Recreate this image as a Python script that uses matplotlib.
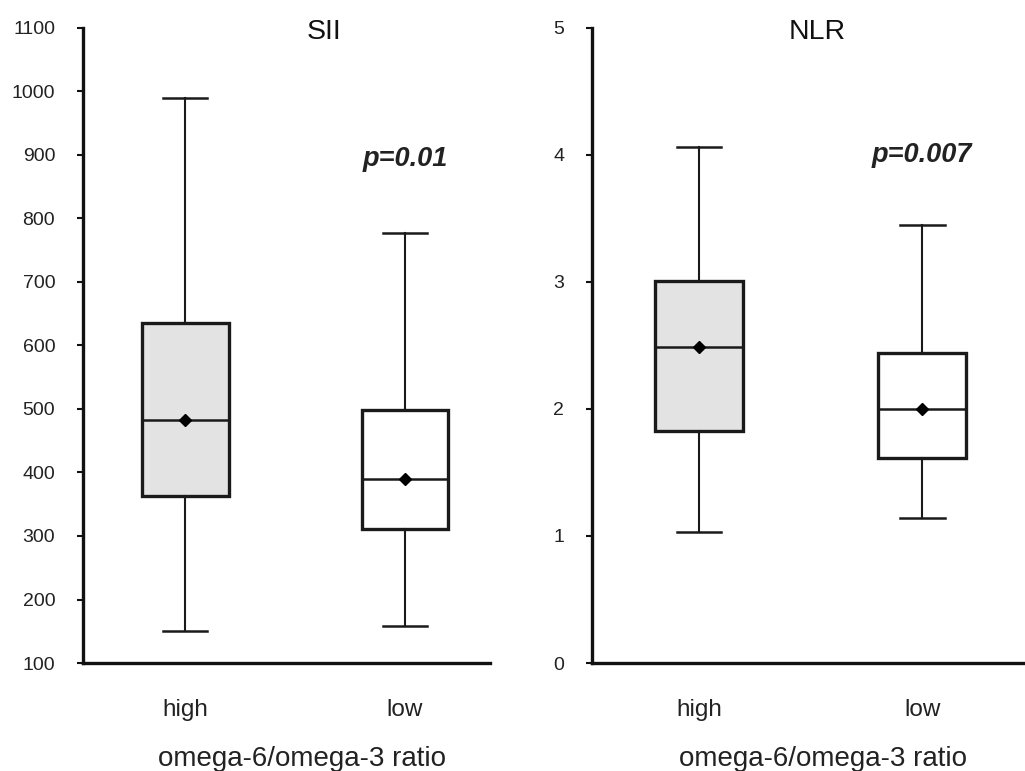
import matplotlib
matplotlib.use("Agg")
import matplotlib.pyplot as plt

plt.rcParams['font.family'] = ['Liberation Sans', 'DejaVu Sans']

groups = ["high", "low"]
xlabel = "omega-6/omega-3 ratio"

# SII
sii_whislo = [151, 158]
sii_q1 = [363, 311]
sii_med = [483, 390]
sii_q3 = [636, 499]
sii_whishi = [989, 777]
sii_mean = [483, 390]

# NLR
nlr_whislo = [1.035, 1.14]
nlr_q1 = [1.825, 1.615]
nlr_med = [2.49, 2.0]
nlr_q3 = [3.01, 2.44]
nlr_whishi = [4.06, 3.45]
nlr_mean = [2.49, 2.0]

fills = ["#e3e3e3", "#ffffff"]

fig = plt.figure(figsize=(10.25, 7.71), dpi=100)
ax1 = fig.add_axes([0.081, 0.140, 0.397, 0.824])
ax2 = fig.add_axes([0.5776, 0.140, 0.4224, 0.824])

def draw(ax, lo, q1, med, q3, hi, mean, ptext, pfrac, xlabx, ylim, yticks, xlim):
    stats = []
    for i in range(len(groups)):
        stats.append(dict(whislo=lo[i], q1=q1[i], med=med[i], q3=q3[i],
                          whishi=hi[i], mean=mean[i], fliers=[], label=groups[i]))
    bp = ax.bxp(stats, positions=[1, 2], widths=0.395, showmeans=True,
                patch_artist=True, showfliers=False,
                boxprops=dict(linewidth=2.4, edgecolor="#1a1a1a"),
                medianprops=dict(color="#1a1a1a", linewidth=1.8),
                whiskerprops=dict(color="#1a1a1a", linewidth=1.5),
                capprops=dict(color="#1a1a1a", linewidth=1.8),
                capwidths=0.2,
                meanprops=dict(marker="D", markerfacecolor="black",
                               markeredgecolor="black", markersize=6.5))
    for patch, c in zip(bp['boxes'], fills):
        patch.set_facecolor(c)
    ax.set_xlim(*xlim)
    ax.set_ylim(*ylim)
    ax.set_yticks(yticks)
    ax.spines['top'].set_visible(False)
    ax.spines['right'].set_visible(False)
    for s in ['left', 'bottom']:
        ax.spines[s].set_linewidth(2.4)
        ax.spines[s].set_color("#111111")
    ax.tick_params(axis='y', length=4.5, width=1.5, color="#111111",
                   labelsize=14, labelcolor="#222222", pad=15.5)
    ax.tick_params(axis='x', length=0, labelsize=17.5, labelcolor="#222222", pad=26)
    ax.set_xticks([1, 2])
    ax.set_xticklabels(groups)
    ax.set_xlabel(xlabel, fontsize=20, color="#222222", labelpad=21)
    ax.xaxis.set_label_coords(xlabx, -0.1, transform=ax.transAxes)
    ax.xaxis.label.set_va('center')
    ax.text(2.0, ylim[0] + (ylim[1] - ylim[0]) * pfrac, ptext, ha='center', va='center',
            fontsize=19.5, fontweight='bold', fontstyle='italic', color="#222222")

draw(ax1, sii_whislo, sii_q1, sii_med, sii_q3, sii_whishi, sii_mean,
     "p=0.01", 0.793, 0.538, (100, 1100), list(range(100, 1101, 100)), (0.536, 2.386))
draw(ax2, nlr_whislo, nlr_q1, nlr_med, nlr_q3, nlr_whishi, nlr_mean,
     "p=0.007", 0.80, 0.533, (0, 5), [0, 1, 2, 3, 4, 5], (0.52, 2.46))

# place x-labels at reference vertical position (centre ~759 px from top)
for ax in (ax1, ax2):
    x_ax = ax.xaxis.label.get_position()[0]
    pos = ax.get_position()
    ax.xaxis.set_label_coords(x_ax, (1 - 759 / 771 - pos.y0) / pos.height)

fig.text(0.316, 0.9585, "SII", ha='center', va='center', fontsize=20.5, color="#111111")
fig.text(0.797, 0.9585, "NLR", ha='center', va='center', fontsize=20.5, color="#111111")

fig.savefig("out.png", dpi=100, facecolor="white")
